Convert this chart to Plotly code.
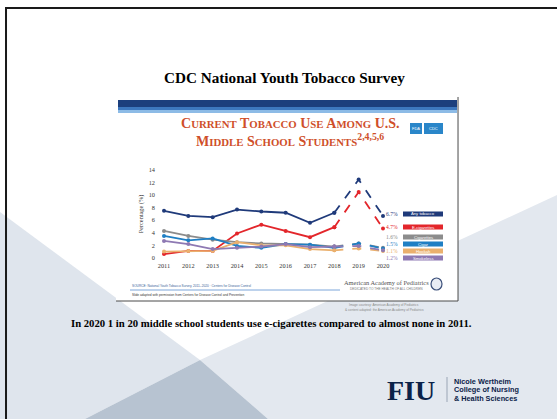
import plotly.graph_objects as go

# ---- data -------------------------------------------------------------
years = [2011, 2012, 2013, 2014, 2015, 2016, 2017, 2018, 2019, 2020]
any_tobacco = [7.5, 6.7, 6.5, 7.7, 7.4, 7.2, 5.6, 7.2, 12.5, 6.7]
e_cigarettes = [0.6, 1.1, 1.1, 3.9, 5.3, 4.3, 3.3, 4.9, 10.5, 4.7]
cigarettes = [4.3, 3.5, 2.9, 2.5, 2.3, 2.2, 2.1, 1.8, 2.3, 1.6]
cigars = [3.5, 2.8, 3.1, 1.9, 1.6, 2.2, 2.1, 1.6, 2.3, 1.5]
hookah = [1.0, 1.1, 1.1, 2.5, 2.0, 2.0, 1.4, 1.2, 1.5, 1.1]
smokeless = [2.7, 2.2, 1.4, 1.6, 1.8, 2.2, 1.7, 1.8, 1.9, 1.2]
y_ticks = [0, 2, 4, 6, 8, 10, 12, 14]

series = [
    ("Any tobacco", any_tobacco, "#1f3a7a"),
    ("E-cigarettes", e_cigarettes, "#e3262b"),
    ("Cigarettes", cigarettes, "#8c8c8c"),
    ("Cigar", cigars, "#1f7fc4"),
    ("Hookah", hookah, "#eab06e"),
    ("Smokeless", smokeless, "#8e79b3"),
]
# years drawn with a solid line; later years are dashed
solid_until = 2018

W, H = 557, 419


def px(x):
    return x / W


def py(y):
    return 1 - y / H


def poly(points):
    return "M " + " L ".join(f"{px(a):.4f},{py(b):.4f}" for a, b in points) + " Z"


fig = go.Figure()

split = years.index(solid_until)
for name, vals, color in series:
    fig.add_trace(go.Scatter(
        x=years[:split + 1], y=vals[:split + 1], mode="lines+markers",
        line=dict(color=color, width=1.8), marker=dict(size=4, color=color),
        showlegend=False, hoverinfo="x+y", name=name))
    fig.add_trace(go.Scatter(
        x=years[split:], y=vals[split:], mode="lines+markers",
        line=dict(color=color, width=1.8, dash="dash"),
        marker=dict(size=4, color=color),
        showlegend=False, hoverinfo="x+y", name=name))

shapes = []
# slide background: soft grey-blue facets
shapes.append(dict(type="path", xref="paper", yref="paper", layer="below",
                   path=poly([(0, 212), (200, 360), (85, 419), (0, 419)]),
                   fillcolor="#dfe5ed", line=dict(width=0)))
shapes.append(dict(type="path", xref="paper", yref="paper", layer="below",
                   path=poly([(200, 360), (557, 195), (557, 419), (268, 419)]),
                   fillcolor="#e3e8ef", line=dict(width=0)))
shapes.append(dict(type="path", xref="paper", yref="paper", layer="below",
                   path=poly([(85, 419), (200, 360), (268, 419)]),
                   fillcolor="#b7c3d1", line=dict(width=0)))
# slide frame
shapes.append(dict(type="path", xref="paper", yref="paper", layer="below",
                   path=f"M {px(6):.4f},{py(420):.4f} L {px(6):.4f},{py(8):.4f} L {px(560):.4f},{py(8):.4f}",
                   line=dict(color="#1a1a1a", width=2)))
# chart card
shapes.append(dict(type="rect", xref="paper", yref="paper", layer="below",
                   x0=px(116), x1=px(458), y0=py(301), y1=py(97),
                   fillcolor="white", line=dict(width=0)))
shapes.append(dict(type="path", xref="paper", yref="paper", layer="below",
                   path=f"M {px(116):.4f},{py(301):.4f} L {px(458):.4f},{py(301):.4f} L {px(458):.4f},{py(97):.4f}",
                   line=dict(color="#4a4a4a", width=1)))
# header band
shapes.append(dict(type="rect", xref="paper", yref="paper", layer="below",
                   x0=px(118), x1=px(457), y0=py(107), y1=py(100),
                   fillcolor="#1c3f7d", line=dict(width=0)))
shapes.append(dict(type="rect", xref="paper", yref="paper", layer="below",
                   x0=px(118), x1=px(457), y0=py(110), y1=py(107),
                   fillcolor="#3d78bf", line=dict(width=0)))
shapes.append(dict(type="rect", xref="paper", yref="paper", layer="below",
                   x0=px(118), x1=px(457), y0=py(113), y1=py(110),
                   fillcolor="#8dbbe6", line=dict(width=0)))
# agency badges
shapes.append(dict(type="rect", xref="paper", yref="paper",
                   x0=px(410), x1=px(422), y0=py(134), y1=py(123),
                   fillcolor="#2a86c9", line=dict(width=0)))
shapes.append(dict(type="rect", xref="paper", yref="paper",
                   x0=px(424), x1=px(443), y0=py(134), y1=py(123),
                   fillcolor="#2a86c9", line=dict(width=0)))
# source rule
shapes.append(dict(type="line", xref="paper", yref="paper",
                   x0=px(130), x1=px(340), y0=py(290), y1=py(290),
                   line=dict(color="#5b8fd0", width=0.8)))
# academy seal
shapes.append(dict(type="circle", xref="paper", yref="paper",
                   x0=px(431), x1=px(442), y0=py(290), y1=py(278),
                   fillcolor="#e8ecf4", line=dict(color="#3b4f7a", width=1.2)))
# FIU separator
shapes.append(dict(type="line", xref="paper", yref="paper",
                   x0=px(447), x1=px(447), y0=py(402), y1=py(377),
                   line=dict(color="#9aa5b5", width=1)))

annotations = []


def note(x, y, text, size, color="#000", family="Liberation Serif",
         xanchor="center", **kw):
    annotations.append(dict(x=px(x), y=py(y), xref="paper", yref="paper",
                            text=text, showarrow=False, xanchor=xanchor,
                            yanchor="middle",
                            font=dict(size=size, color=color, family=family),
                            **kw))


def small_caps(words, small):
    out = []
    for w in words.split(" "):
        head, tail = w[0], w[1:]
        if tail.isalpha() and tail.isupper():
            out.append(f"{head}<span style='font-size:{small}px'>{tail}</span>")
        else:
            out.append(w)
    return " ".join(out)


note(284, 77, "<b>CDC National Youth Tobacco Survey</b>", 15.2)
title_color = "#cf4f2a"
note(290, 123, "<b>" + small_caps("CURRENT TOBACCO USE AMONG U.S.", 10.8) + "</b>",
     14, title_color)
note(290, 140, "<b>" + small_caps("MIDDLE SCHOOL STUDENTS", 10.8)
     + "<sup>2,4,5,6</sup></b>", 14, title_color)
note(416, 128.5, "FDA", 4, "white", "Liberation Sans")
note(433.5, 128.5, "CDC", 4, "white", "Liberation Sans")

# end-value labels and coloured name tags
tag_rows = [214, 227, 237, 244, 251, 258]
for (name, vals, color), row in zip(series, tag_rows):
    note(400, row, f"{vals[-1]:.1f}%", 5.5, color, xanchor="right")
    shapes.append(dict(type="rect", xref="paper", yref="paper",
                       x0=px(403), x1=px(443), y0=py(row + 2.6), y1=py(row - 2.6),
                       fillcolor=color, line=dict(width=0)))
    note(423, row, name, 4.2, "white", "Liberation Sans")

note(130, 286, "SOURCE: National Youth Tobacco Survey, 2011–2020 · Centers for Disease Control",
     3.2, "#3b5f9a", "Liberation Sans", xanchor="left")
note(130, 295, "Slide adapted with permission from Centers for Disease Control and Prevention",
     3.2, "#333", "Liberation Sans", xanchor="left")
note(386, 282, "American Academy of Pediatrics", 6.4, "#555")
note(386, 289, "DEDICATED TO THE HEALTH OF ALL CHILDREN", 3.2, "#777",
     "Liberation Sans")
note(384, 305, "Image courtesy: American Academy of Pediatrics", 3.2, "#888",
     "Liberation Sans")
note(384, 310, "& content adapted: the American Academy of Pediatrics", 3.2,
     "#888", "Liberation Sans")

note(271, 323, "<b>In 2020 1 in 20 middle school students use e-cigarettes compared to almost none in 2011.</b>",
     10.7)

note(411, 390, "<b>FIU</b>", 28, "#0b2249", "Liberation Serif")
note(452, 381, "<b>Nicole Wertheim</b>", 7.3, "#0b2249", "Liberation Sans", xanchor="left")
note(452, 389.5, "<b>College of Nursing</b>", 7.3, "#0b2249", "Liberation Sans", xanchor="left")
note(452, 398, "<b>& Health Sciences</b>", 7.3, "#0b2249", "Liberation Sans", xanchor="left")

fig.update_layout(
    width=W, height=H, margin=dict(l=0, r=0, t=0, b=0),
    paper_bgcolor="white", plot_bgcolor="rgba(0,0,0,0)",
    shapes=shapes, annotations=annotations,
    xaxis=dict(domain=[px(156), px(395)], range=[2010.671, 2020.493],
               tickvals=years, showgrid=False, zeroline=False, showline=False,
               tickfont=dict(size=6.3, family="Liberation Serif", color="#333")),
    yaxis=dict(domain=[py(261), py(167)], range=[-0.5, 14.5],
               tickvals=y_ticks, showgrid=False, zeroline=False, showline=False,
               tickfont=dict(size=6.3, family="Liberation Serif", color="#333"),
               title=dict(text="Percentage (%)", standoff=4,
                          font=dict(size=6.3, family="Liberation Serif", color="#333"))),
)

fig.write_html("out.html")
